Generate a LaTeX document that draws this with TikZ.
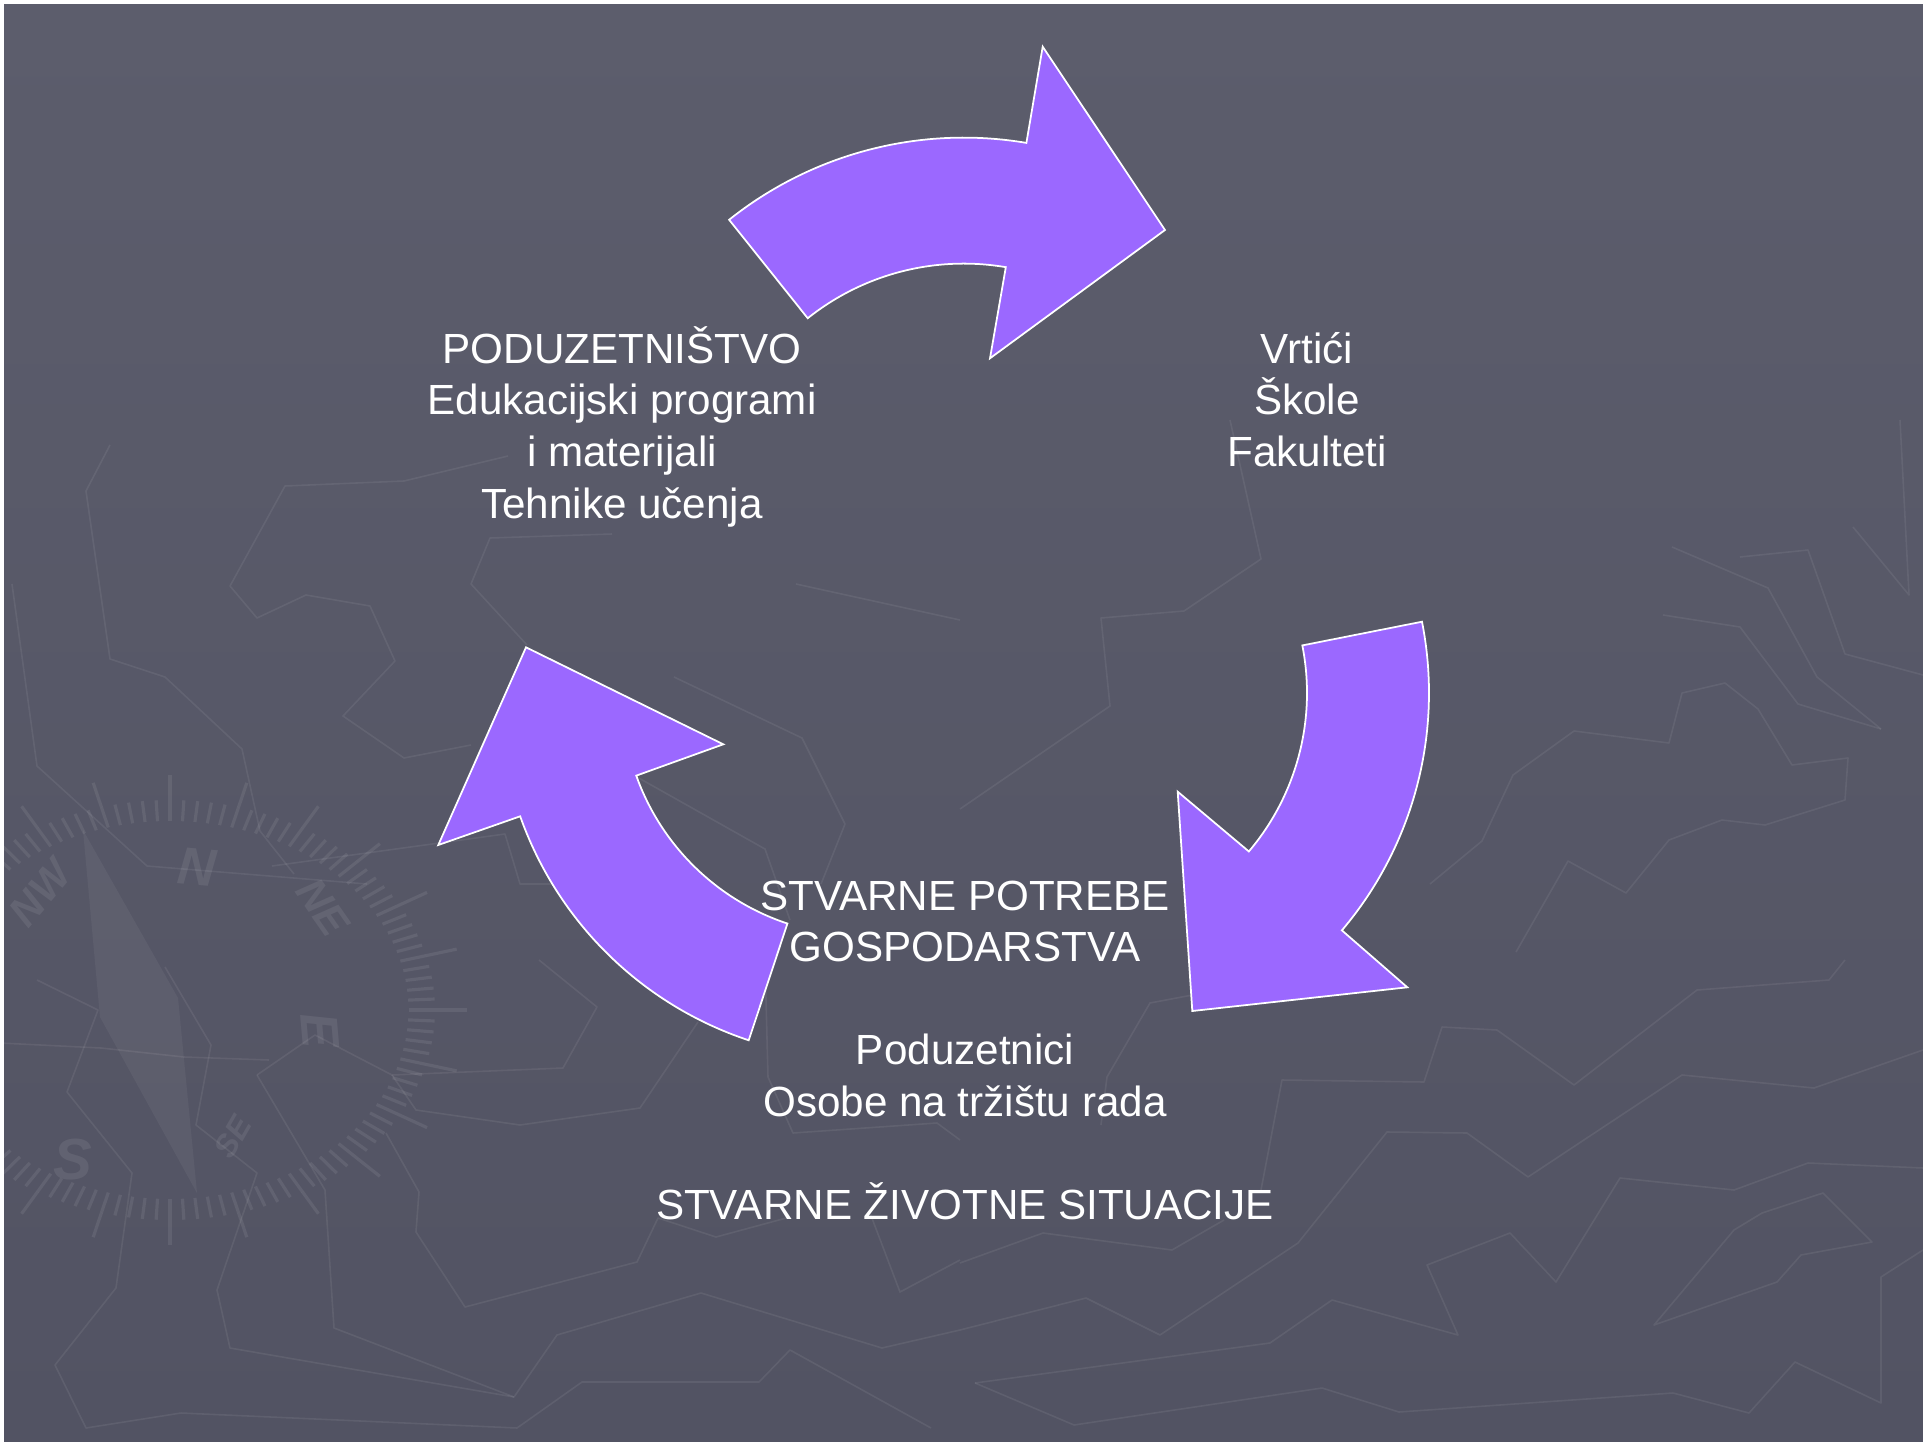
\documentclass[tikz,border=0pt]{standalone}
\usepackage{fontspec}
\setmainfont{Liberation Sans}

\definecolor{bgtop}{HTML}{5C5D6C}
\definecolor{bgbot}{HTML}{525363}
\definecolor{arrowfill}{HTML}{9B68FF}

\begin{document}
\begin{tikzpicture}[x=0.1mm, y=0.1mm, line join=round,
  cyclearrow/.style={fill=arrowfill, draw=white, line width=0.5pt, line join=miter},
  maptrace/.style={draw=white, draw opacity=0.07, line width=0.45pt},
  dialtick/.style={draw=white, draw opacity=0.08, line width=0.9pt},
  dialletter/.style={text=white, text opacity=0.08, font=\bfseries\itshape\fontsize{15}{15}\selectfont},
  blocktext/.style={text=white, align=center, anchor=base, font=\fontsize{12}{14.66}\selectfont}]
  % slide background
  \fill[white] (0,0) rectangle (1923,-1442);
  \shade[top color=bgtop, bottom color=bgbot] (4,-4) rectangle (1923,-1442);
  \useasboundingbox (0,0) rectangle (1923,-1442);

  % faint map lines
  \draw[maptrace] (110,-445) -- (86,-491) -- (110,-659) -- (165,-677) -- (242,-749) -- (260,-831) -- (294,-874);
  \draw[maptrace] (12,-584) -- (37,-766) -- (147,-866) -- (367,-884);
  \draw[maptrace] (508,-456) -- (404,-481) -- (285,-486) -- (230,-586) -- (257,-618) -- (306,-595) -- (370,-606) -- (395,-661) -- (343,-716) -- (404,-758) -- (471,-745);
  \draw[maptrace] (612,-534) -- (490,-538) -- (471,-584) -- (527,-645);
  \draw[maptrace] (674,-677) -- (802,-738) -- (845,-824) -- (821,-884);
  \draw[maptrace] (796,-584) -- (960,-620);
  \draw[maptrace] (272,-866) -- (505,-834) -- (520,-884) -- (570,-884);
  \draw[maptrace] (637,-777) -- (765,-849) -- (790,-920);
  \draw[maptrace] (960,-809) -- (1110,-706) -- (1101,-618) -- (1184,-611) -- (1261,-559) -- (1230,-420);
  \draw[maptrace] (1430,-884) -- (1482,-841) -- (1513,-775) -- (1574,-731) -- (1669,-743) -- (1682,-693) -- (1725,-683) -- (1758,-709) -- (1792,-765) -- (1848,-758) -- (1845,-800) -- (1765,-825) -- (1722,-820) -- (1669,-840) -- (1626,-893) -- (1568,-861) -- (1516,-952);
  \draw[maptrace] (1663,-615) -- (1740,-627) -- (1798,-704) -- (1881,-729);
  \draw[maptrace] (1672,-547) -- (1768,-588) -- (1817,-677) -- (1881,-729);
  \draw[maptrace] (1740,-557) -- (1808,-550) -- (1845,-654) -- (1923,-675);
  \draw[maptrace] (1853,-527) -- (1909,-595) -- (1900,-420);
  \draw[maptrace] (37,-980) -- (98,-1010) -- (67,-1092) -- (132,-1173) -- (116,-1288) -- (55,-1365) -- (86,-1428) -- (181,-1413) -- (517,-1428) -- (582,-1382) -- (759,-1382) -- (790,-1350) -- (931,-1428);
  \draw[maptrace] (165,-967) -- (211,-1045) -- (196,-1125) -- (257,-1173) -- (217,-1290) -- (230,-1348) -- (514,-1397) -- (557,-1335) -- (701,-1293) -- (882,-1348) -- (960,-1330);
  \draw[maptrace] (257,-1075) -- (315,-1035) -- (392,-1075) -- (563,-1068) -- (597,-1007) -- (539,-960);
  \draw[maptrace] (257,-1075) -- (325,-1190) -- (334,-1328) -- (514,-1397);
  \draw[maptrace] (392,-1075) -- (416,-1110) -- (520,-1125) -- (640,-1108) -- (698,-1022);
  \draw[maptrace] (386,-1133) -- (419,-1192) -- (416,-1232) -- (465,-1307) -- (637,-1262) -- (658,-1218) -- (716,-1237) -- (790,-1217);
  \draw[maptrace] (0,-1043) -- (101,-1048) -- (184,-1057) -- (269,-1060);
  \draw[maptrace] (765,-960) -- (768,-1077) -- (793,-1133) -- (937,-1123) -- (960,-1140);
  \draw[maptrace] (870,-1213) -- (900,-1292) -- (960,-1260);
  \draw[maptrace] (975,-1383) -- (1270,-1343) -- (1332,-1300) -- (1458,-1335) -- (1427,-1265) -- (1510,-1233) -- (1556,-1282) -- (1620,-1178) -- (1734,-1190) -- (1808,-1163) -- (1923,-1168);
  \draw[maptrace] (975,-1383) -- (1074,-1425) -- (1322,-1388) -- (1399,-1412) -- (1673,-1393) -- (1749,-1413) -- (1795,-1362) -- (1881,-1403) -- (1881,-1277) -- (1923,-1250);
  \draw[maptrace] (960,-1330) -- (1086,-1298) -- (1160,-1335) -- (1298,-1243) -- (1387,-1132) -- (1467,-1133) -- (1528,-1177) -- (1682,-1075) -- (1814,-1088) -- (1923,-1050);
  \draw[maptrace] (1261,-1190) -- (1282,-1080) -- (1424,-1082) -- (1442,-1027) -- (1497,-1030) -- (1574,-1085) -- (1697,-990) -- (1829,-980) -- (1845,-960);
  \draw[maptrace] (1654,-1325) -- (1734,-1230) -- (1762,-1213) -- (1823,-1193) -- (1872,-1242) -- (1801,-1255) -- (1777,-1282) -- cycle;
  \draw[maptrace] (960,-1263) -- (1043,-1233) -- (1172,-1250) -- (1224,-1220);
  \draw[maptrace] (1101,-1125) -- (1107,-1077) -- (1150,-1003) -- (1203,-993);

  % compass
  \begin{scope}[shift={(170,-1010)}]
    \foreach \a in {0,3,...,357}
      \draw[dialtick] ({0.9*265*cos(\a)},{0.9*210*sin(\a)}) -- ({265*cos(\a)},{210*sin(\a)});
    \foreach \a in {0,15,...,345}
      \draw[dialtick] ({265*cos(\a)},{210*sin(\a)}) -- ({1.12*265*cos(\a)},{1.12*210*sin(\a)});
  \end{scope}
  \fill[white, opacity=0.05] (83,-830) -- (178,-998) -- (197,-1193) -- (100,-1017) -- cycle;
  \node[dialletter, rotate=-5] (dialN) at (197,-867) {N};
  \node[dialletter, rotate=50, scale=0.8] (dialNW) at (40,-893) {NW};
  \node[dialletter, rotate=-55, scale=0.8] (dialNE) at (323,-907) {NE};
  \node[dialletter, rotate=-85] (dialE) at (320,-1030) {E};
  \node[dialletter, scale=1.1] (dialS) at (73,-1160) {S};
  \node[dialletter, rotate=60, scale=0.6] (dialSE) at (233,-1137) {SE};

  % three circular arrows, each around its own centre
  \draw[cyclearrow] ([shift={(963.7,-513.6)}]128.6:376) arc[start angle=128.6, end angle=80.4, radius=376]
    -- (1042.7,-46.7) -- (1165,-230) -- (990,-358.3)
    -- ([shift={(963.7,-513.6)}]80.3:250) arc[start angle=80.3, end angle=128.6, radius=250] -- cycle;
  \draw[cyclearrow] ([shift={(1062,-693)}]11.2:367) arc[start angle=11.2, end angle=-40.3, radius=367]
    -- (1407.3,-987.3) -- (1192.3,-1011) -- (1177.7,-791.7)
    -- ([shift={(1062,-693)}]-40.3:245) arc[start angle=-40.3, end angle=11.2, radius=245] -- cycle;
  \draw[cyclearrow] ([shift={(863.3,-694.8)}]-108.35:364) arc[start angle=-108.35, end angle=-160.5, radius=364]
    -- (438.3,-845) -- (526,-647.3) -- (723.3,-744.3)
    -- ([shift={(863.3,-694.8)}]-160.4:241) arc[start angle=-160.4, end angle=-108.35, radius=241] -- cycle;

  % texts (base = last line)
  \node[blocktext] (poduzetnistvo) at (622,-518) {PODUZETNIŠTVO\\Edukacijski programi\\i materijali\\Tehnike učenja};
  \node[blocktext] (skole) at (1307,-466.5) {Vrtići\\Škole\\Fakulteti};
  \node[blocktext] (potrebe) at (965,-1219.5) {STVARNE POTREBE\\GOSPODARSTVA\\[14.66pt]Poduzetnici\\Osobe na tržištu rada\\[14.66pt]STVARNE ŽIVOTNE SITUACIJE};
\end{tikzpicture}
\end{document}
